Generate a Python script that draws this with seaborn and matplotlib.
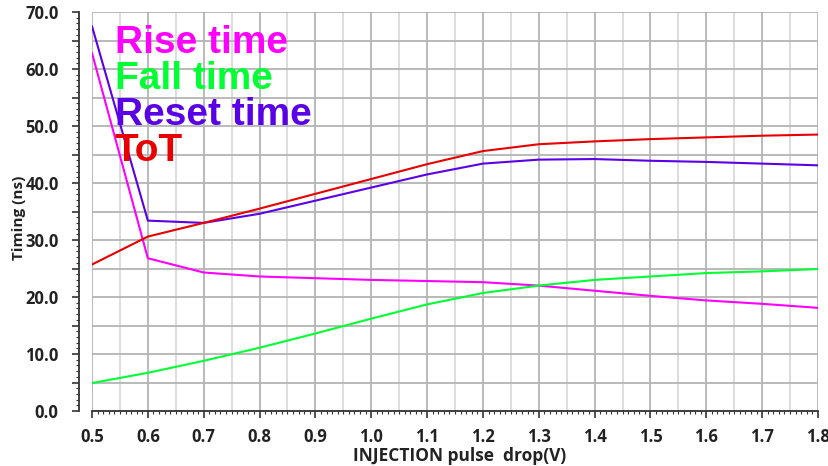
import numpy as np
import pandas as pd
import matplotlib
matplotlib.use("Agg")
import matplotlib.pyplot as plt
from matplotlib.ticker import MultipleLocator, FuncFormatter
import seaborn as sns

# Injection pulse drop (V)
drop_v = [0.5, 0.6, 0.7, 0.8, 0.9, 1.0, 1.1, 1.2, 1.3, 1.4, 1.5, 1.6, 1.7, 1.8]

# Timing values (ns)
rise_time = [62.8, 26.8, 24.3, 23.6, 23.3, 23.0, 22.8, 22.6, 22.0, 21.1, 20.2, 19.4, 18.8, 18.1]
fall_time = [4.9, 6.7, 8.8, 11.1, 13.6, 16.2, 18.7, 20.7, 22.0, 23.0, 23.6, 24.2, 24.5, 24.9]
reset_time = [67.5, 33.4, 33.0, 34.6, 36.9, 39.2, 41.5, 43.4, 44.1, 44.2, 43.9, 43.7, 43.4, 43.1]
tot = [25.7, 30.6, 33.0, 35.5, 38.1, 40.7, 43.3, 45.6, 46.8, 47.3, 47.7, 48.0, 48.3, 48.5]

series_names = ["Rise time", "Fall time", "Reset time", "ToT"]
series_colors = ["#ff00ff", "#00ff33", "#5a00e6", "#e80000"]

df = pd.concat(
    [pd.DataFrame({"drop": drop_v, "timing": vals, "series": name})
     for name, vals in zip(series_names, [rise_time, fall_time, reset_time, tot])],
    ignore_index=True,
)

sns.set_theme(style="white")
fig = plt.figure(figsize=(8.29, 4.66), dpi=100)
ax = fig.add_axes([92 / 829, 1 - 411 / 466, (818 - 92) / 829, (411 - 12) / 466])

sns.lineplot(data=df, x="drop", y="timing", hue="series",
             palette=dict(zip(series_names, series_colors)),
             linewidth=1.5, legend=False, ax=ax, zorder=3)

ax.set_xlim(0.5, 1.8)
ax.set_ylim(0, 70)

# grid: darker lines every 0.1 V / 5 ns, lighter lines at the 0.05 V midpoints
ax.xaxis.set_major_locator(MultipleLocator(0.1))
ax.xaxis.set_minor_locator(MultipleLocator(0.01))
ax.yaxis.set_major_locator(MultipleLocator(5))
ax.yaxis.set_minor_locator(MultipleLocator(1))
ax.grid(True, which="major", color="#b4b4b4", linewidth=1.3, zorder=0)
half_steps = np.arange(0.55, 1.8, 0.1)
ax.vlines(half_steps, 0, 70, colors="#dadada", linewidth=1.3, zorder=0)

ax.xaxis.set_major_formatter(FuncFormatter(lambda v, _: f"{v:.1f}"))
ax.yaxis.set_major_formatter(
    FuncFormatter(lambda v, _: f"{v:.1f}" if abs(v / 10 - round(v / 10)) < 1e-6 else ""))

for side in ["top", "right"]:
    ax.spines[side].set_visible(False)
ax.spines["left"].set_position(("outward", 9))
for side in ["left", "bottom"]:
    ax.spines[side].set_color("#333333")
    ax.spines[side].set_linewidth(1.3)

ax.tick_params(axis="both", which="major", direction="out", length=5, width=1.2,
               color="#333333")
ax.tick_params(axis="both", which="minor", direction="out", length=2.5, width=0.8,
               color="#333333")
ax.tick_params(axis="x", which="major", pad=7)
ax.tick_params(axis="y", which="major", pad=10)
ax.tick_params(axis="x", which="both", bottom=True)
ax.tick_params(axis="y", which="both", left=True)

for lbl in ax.get_xticklabels() + ax.get_yticklabels():
    lbl.set_fontfamily("Open Sans")
    lbl.set_fontweight("bold")
    lbl.set_fontsize(12)
    lbl.set_color("#222222")

ax.set_xlabel("INJECTION pulse  drop(V)", fontfamily="Open Sans", fontweight="bold",
              fontsize=12.5, color="#222222", va="center")
ax.xaxis.set_label_coords(0.507, -0.1128)
ax.set_ylabel("Timing (ns)", fontfamily="Open Sans", fontweight="bold",
              fontsize=11, color="#222222", va="center")
ax.yaxis.set_label_coords(-0.1005, 0.484)

# coloured series names in the upper-left corner
for i, (name, color) in enumerate(zip(series_names, series_colors)):
    ax.text(0.541, 64.6 - i * 6.35, name, color=color, fontsize=28,
            fontfamily="Liberation Sans", fontweight="bold", va="center", ha="left",
            zorder=4)

fig.savefig("out.png", dpi=100)
